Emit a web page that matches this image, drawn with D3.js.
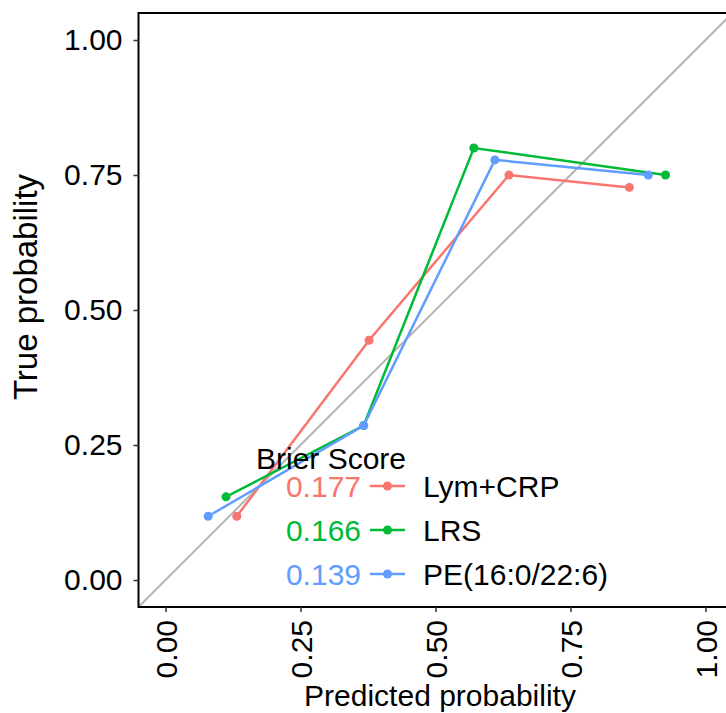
<!DOCTYPE html>
<html>
<head>
<meta charset="utf-8">
<script src="https://cdn.jsdelivr.net/npm/d3@7.9.0/dist/d3.min.js"></script>
<style>
  body { margin: 0; background: #fff; }
  svg { display: block; font-family: "Liberation Sans", Arial, sans-serif; }
</style>
</head>
<body>
<svg id="chart" width="726" height="713"></svg>
<script>
// data
const models = ["Lym+CRP", "LRS", "PE(16:0/22:6)"];
const brierScores = ["0.177", "0.166", "0.139"];
const seriesColors = ["#F8766D", "#00BA38", "#619CFF"];

const predLymCrp = [0.132, 0.377, 0.636, 0.859];
const trueLymCrp = [0.118, 0.444, 0.750, 0.727];
const predLrs = [0.112, 0.367, 0.571, 0.926];
const trueLrs = [0.154, 0.286, 0.800, 0.750];
const predPe = [0.079, 0.367, 0.610, 0.894];
const truePe = [0.118, 0.286, 0.778, 0.750];

const tickValues = [0, 0.25, 0.5, 0.75, 1];

const series = [
  { name: models[0], pred: predLymCrp, obs: trueLymCrp },
  { name: models[1], pred: predLrs, obs: trueLrs },
  { name: models[2], pred: predPe, obs: truePe },
];

const svg = d3.select("#chart");

// panel bounds (right side runs off the picture like in the original)
const panelLeft = 138.5, panelRight = 732.5, panelTop = 13, panelBottom = 607;

const x = d3.scaleLinear().domain([-0.05, 1.05]).range([panelLeft, panelRight]);
const y = d3.scaleLinear().domain([-0.05, 1.05]).range([panelBottom, panelTop]);

svg.append("clipPath").attr("id", "panel")
  .append("rect").attr("x", panelLeft).attr("y", panelTop)
  .attr("width", panelRight - panelLeft).attr("height", panelBottom - panelTop);

const plot = svg.append("g").attr("clip-path", "url(#panel)");

// reference diagonal
plot.append("line")
  .attr("x1", x(-0.05)).attr("y1", y(-0.05))
  .attr("x2", x(1.05)).attr("y2", y(1.05))
  .attr("stroke", "#b5b5b5").attr("stroke-width", 2);

const line = d3.line().x(d => x(d[0])).y(d => y(d[1]));

series.forEach((s, i) => {
  const pts = s.pred.map((p, j) => [p, s.obs[j]]);
  plot.append("path").datum(pts)
    .attr("d", line)
    .attr("fill", "none")
    .attr("stroke", seriesColors[i])
    .attr("stroke-width", 2.5);
  plot.selectAll(null).data(pts).enter().append("circle")
    .attr("cx", d => x(d[0])).attr("cy", d => y(d[1]))
    .attr("r", 4.5).attr("fill", seriesColors[i]);
});

// panel border
svg.append("rect")
  .attr("x", panelLeft).attr("y", panelTop)
  .attr("width", panelRight - panelLeft).attr("height", panelBottom - panelTop)
  .attr("fill", "none").attr("stroke", "#000").attr("stroke-width", 2);

// y axis
const yAxis = svg.append("g")
  .attr("transform", `translate(${panelLeft},0)`)
  .call(d3.axisLeft(y).tickValues(tickValues).tickFormat(d3.format(".2f"))
    .tickSize(5).tickPadding(11));
yAxis.select(".domain").remove();
yAxis.selectAll("line").attr("stroke", "#333").attr("stroke-width", 1.5);
yAxis.selectAll("text").attr("fill", "#000").style("font-size", "30px")
  .attr("font-family", null);

// x axis, labels turned vertical
const xAxis = svg.append("g")
  .attr("transform", `translate(0,${panelBottom})`)
  .call(d3.axisBottom(x).tickValues(tickValues).tickFormat(d3.format(".2f"))
    .tickSize(5));
xAxis.select(".domain").remove();
xAxis.selectAll("line").attr("stroke", "#333").attr("stroke-width", 1.5);
xAxis.selectAll("text")
  .attr("fill", "#000").style("font-size", "30px").attr("font-family", null)
  .attr("transform", "rotate(-90)")
  .attr("x", -13).attr("y", 0).attr("dy", "0.35em")
  .attr("text-anchor", "end");

// axis titles
svg.append("text")
  .attr("x", 440).attr("y", 706)
  .attr("text-anchor", "middle")
  .style("font-size", "30px")
  .text("Predicted probability");

svg.append("text")
  .attr("transform", "translate(37,287) rotate(-90)")
  .attr("text-anchor", "middle")
  .style("font-size", "33px")
  .text("True probability");

// legend: Brier score, key, model name
const legend = svg.append("g");
legend.append("text")
  .attr("x", 256).attr("y", 469)
  .style("font-size", "30px")
  .text("Brier Score");

models.forEach((m, i) => {
  const cy = 486 + i * 44;
  legend.append("text")
    .attr("x", 361).attr("y", cy).attr("dy", "0.35em")
    .attr("text-anchor", "end")
    .attr("fill", seriesColors[i])
    .style("font-size", "30px")
    .text(brierScores[i]);
  legend.append("line")
    .attr("x1", 370).attr("x2", 405).attr("y1", cy).attr("y2", cy)
    .attr("stroke", seriesColors[i]).attr("stroke-width", 2.5);
  legend.append("circle")
    .attr("cx", 387.5).attr("cy", cy).attr("r", 4.5)
    .attr("fill", seriesColors[i]);
  legend.append("text")
    .attr("x", 423).attr("y", cy).attr("dy", "0.35em")
    .style("font-size", "30px")
    .text(m);
});
</script>
</body>
</html>
